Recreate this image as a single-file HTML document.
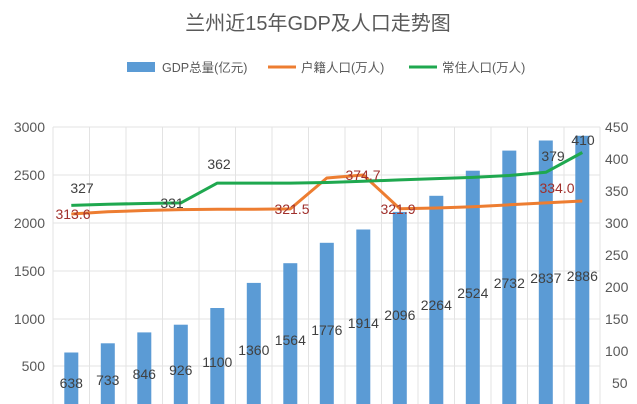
<!DOCTYPE html>
<html><head><meta charset="utf-8"><style>
body{margin:0;background:#fff;}
svg{display:block;font-family:"Liberation Sans","Noto Sans CJK SC",sans-serif;}
</style></head><body>
<svg width="637" height="404" viewBox="0 0 637 404">
<text x="318" y="30" text-anchor="middle" font-size="20" fill="#595959">兰州近15年GDP及人口走势图</text>
<rect x="127" y="62" width="28" height="10" fill="#5b9bd5"/>
<text x="162" y="72" font-size="12.5" fill="#595959">GDP总量(亿元)</text>
<line x1="268" y1="67" x2="296" y2="67" stroke="#ed7d31" stroke-width="3"/>
<text x="301" y="72" font-size="12.5" fill="#595959">户籍人口(万人)</text>
<line x1="409" y1="67" x2="437" y2="67" stroke="#1fa84f" stroke-width="3"/>
<text x="442" y="72" font-size="12.5" fill="#595959">常住人口(万人)</text>
<g stroke="#e3e3e3" stroke-width="1">
<line x1="53" y1="127" x2="600" y2="127"/><line x1="53" y1="175" x2="600" y2="175"/>
<line x1="53" y1="223" x2="600" y2="223"/><line x1="53" y1="271" x2="600" y2="271"/>
<line x1="53" y1="319" x2="600" y2="319"/><line x1="53" y1="366" x2="600" y2="366"/>
<line x1="53" y1="127" x2="53" y2="404"/><line x1="89.5" y1="127" x2="89.5" y2="404"/>
<line x1="126" y1="127" x2="126" y2="404"/><line x1="162.5" y1="127" x2="162.5" y2="404"/>
<line x1="199" y1="127" x2="199" y2="404"/><line x1="235.5" y1="127" x2="235.5" y2="404"/>
<line x1="272" y1="127" x2="272" y2="404"/><line x1="308.5" y1="127" x2="308.5" y2="404"/>
<line x1="345" y1="127" x2="345" y2="404"/><line x1="381.5" y1="127" x2="381.5" y2="404"/>
<line x1="418" y1="127" x2="418" y2="404"/><line x1="454.5" y1="127" x2="454.5" y2="404"/>
<line x1="491" y1="127" x2="491" y2="404"/><line x1="527.5" y1="127" x2="527.5" y2="404"/>
<line x1="564" y1="127" x2="564" y2="404"/><line x1="600" y1="127" x2="600" y2="404"/>
</g>
<g font-size="14" fill="#595959" text-anchor="end">
<text x="45" y="132">3000</text><text x="45" y="180">2500</text><text x="45" y="228">2000</text>
<text x="45" y="276">1500</text><text x="45" y="324">1000</text><text x="45" y="371">500</text>
</g>
<g font-size="14" fill="#595959">
<text x="605" y="132">450</text><text x="605" y="164">400</text><text x="605" y="196">350</text>
<text x="605" y="228">300</text><text x="605" y="260">250</text><text x="605" y="292">200</text>
<text x="605" y="324">150</text><text x="605" y="356">100</text><text x="612" y="388">50</text>
</g>
<g fill="#5b9bd5">
<rect x="64.3" y="352.5" width="14" height="60"/><rect x="100.8" y="343.3" width="14" height="70"/>
<rect x="137.3" y="332.4" width="14" height="80"/><rect x="173.8" y="324.7" width="14" height="90"/>
<rect x="210.3" y="308" width="14" height="100"/><rect x="246.8" y="282.9" width="14" height="130"/>
<rect x="283.3" y="263.2" width="14" height="150"/><rect x="319.8" y="242.8" width="14" height="170"/>
<rect x="356.3" y="229.5" width="14" height="180"/><rect x="392.8" y="211.9" width="14" height="200"/>
<rect x="429.3" y="195.8" width="14" height="210"/><rect x="465.8" y="170.7" width="14" height="240"/>
<rect x="502.3" y="150.6" width="14" height="260"/><rect x="538.8" y="140.5" width="14" height="270"/>
<rect x="575.3" y="135.8" width="14" height="270"/>
</g>
<g font-size="14" fill="#404040" text-anchor="middle">
<text x="71.3" y="388">638</text><text x="107.8" y="385">733</text><text x="144.3" y="379">846</text>
<text x="180.8" y="375">926</text><text x="217.3" y="367">1100</text><text x="253.8" y="355">1360</text>
<text x="290.3" y="345">1564</text><text x="326.8" y="335">1776</text><text x="363.3" y="328">1914</text>
<text x="399.8" y="320">2096</text><text x="436.3" y="310">2264</text><text x="472.8" y="298">2524</text>
<text x="509.3" y="288">2732</text><text x="545.8" y="283">2837</text><text x="582.3" y="281">2886</text>
</g>
<polyline fill="none" stroke="#ed7d31" stroke-width="3" stroke-linejoin="round" points="71.3,214 107.8,211.8 144.3,210.5 180.8,209.6 217.3,209.3 253.8,209.3 290.3,208.9 326.8,178 363.3,175 399.8,208.7 436.3,208 472.8,206.7 509.3,204.8 545.8,202.9 582.3,201"/>
<polyline fill="none" stroke="#1fa84f" stroke-width="3" stroke-linejoin="round" points="71.3,205.4 107.8,204.2 144.3,203.5 180.8,202.9 217.3,183.1 253.8,183.1 290.3,183.1 326.8,182.5 363.3,181.2 399.8,179.9 436.3,178.6 472.8,177.4 509.3,175.5 545.8,172.3 582.3,152.5"/>
<g font-size="14" fill="#404040" text-anchor="middle">
<text x="82" y="193">327</text><text x="172" y="208">331</text><text x="219" y="169">362</text>
<text x="553" y="161">379</text><text x="583" y="145">410</text>
</g>
<g font-size="14" fill="#a0302c" text-anchor="middle">
<text x="73" y="219">313.6</text><text x="292" y="214">321.5</text><text x="363" y="180">374.7</text>
<text x="398" y="214">321.9</text><text x="557" y="193">334.0</text>
</g>
</svg>
</body></html>
